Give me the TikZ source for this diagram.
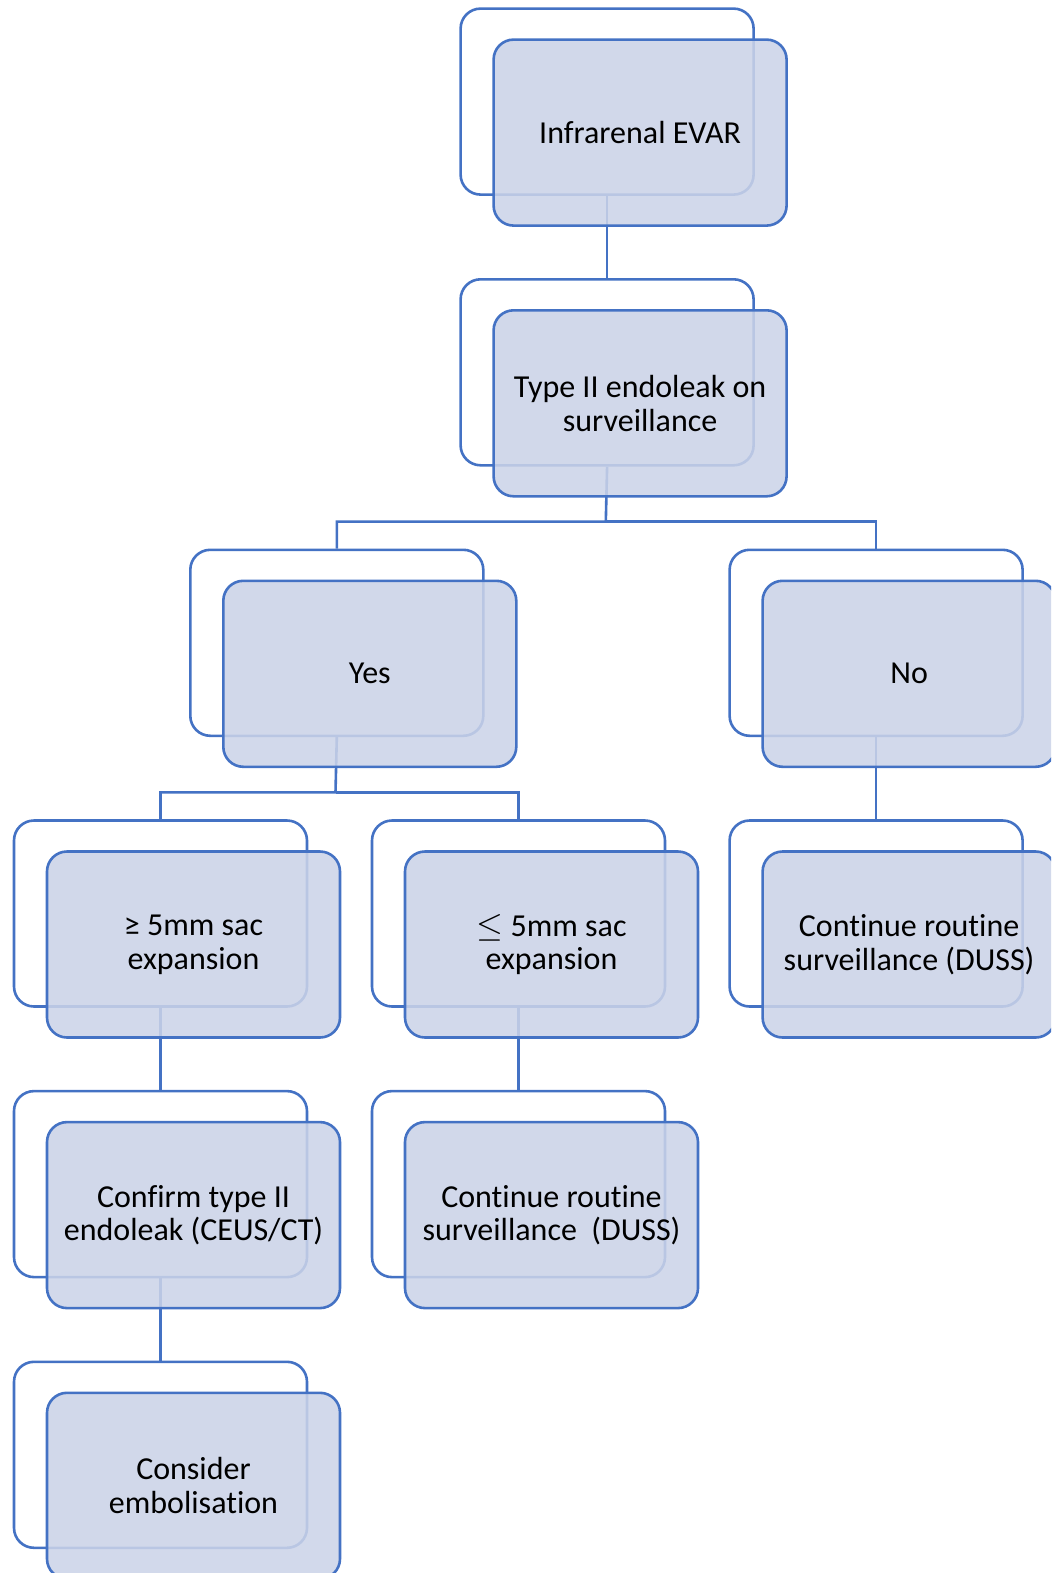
\documentclass[tikz,border=0pt]{standalone}
\usepackage{fontspec}
\setmainfont{Carlito}[RawFeature={-liga}]
\definecolor{lnblue}{RGB}{68,114,196}
\definecolor{fillblue}{RGB}{203,211,232}
\begin{document}
\begin{tikzpicture}[x=0.5pt,y=-0.5pt,
  backbox/.style={draw=lnblue, line width=1.3pt, fill=white, rounded corners=10pt,
    minimum width=146.5pt, minimum height=93pt, inner sep=0pt, anchor=north west},
  frontbox/.style={draw=lnblue, line width=1.3pt, fill=fillblue, fill opacity=0.87,
    draw opacity=1, text opacity=1, rounded corners=10pt, minimum width=146.5pt, minimum height=93pt,
    inner sep=0pt, anchor=north west, align=center,
    font=\fontsize{16}{16.9}\selectfont},
  conn/.style={draw=lnblue, line width=1.3pt}]
\useasboundingbox (0,0) rectangle (1051,1573);
\clip (0,0) rectangle (1051,1573);
% back boxes
\node[backbox] (evarb) at (459.3,7.3) {};
\node[backbox] (t2b) at (459.3,278) {};
\node[backbox] (yesb) at (189,548.5) {};
\node[backbox] (nob) at (728.3,548.5) {};
\node[backbox] (a3b) at (12.7,819.2) {};
\node[backbox] (b3b) at (370.7,819.2) {};
\node[backbox] (n3b) at (728.3,819.2) {};
\node[backbox] (a4b) at (12.7,1089.8) {};
\node[backbox] (b4b) at (370.7,1089.8) {};
\node[backbox] (a5b) at (12.7,1360.5) {};
% connectors
\coordinate (j1) at (605.8,521.6);
\coordinate (j2) at (335.5,792.3);
\draw[conn] (evarb.south) -- (t2b.north);
\draw[conn] (t2b.south) -- (j1) -| (yesb.north);
\draw[conn] (j1) -| (nob.north);
\draw[conn] (yesb.south) -- (j2) -| (a3b.north);
\draw[conn] (j2) -| (b3b.north);
\draw[conn] (nob.south) -- (n3b.north);
\draw[conn] (a3b.south) -- (a4b.north);
\draw[conn] (b3b.south) -- (b4b.north);
\draw[conn] (a4b.south) -- (a5b.north);
% front boxes
\node[frontbox] (evarf) at (492.3,38.3) {Infrarenal EVAR};
\node[frontbox] (t2f) at (492.3,309) {Type II endoleak on\\surveillance};
\node[frontbox] (yesf) at (222,579.5) {Yes};
\node[frontbox] (nof) at (761.3,579.5) {No};
\node[frontbox] (a3f) at (45.7,850.2) {≥ 5mm sac\\expansion};
\node[frontbox] (b3f) at (403.7,850.2) {$\leq$ 5mm sac\\expansion};
\node[frontbox] (n3f) at (761.3,850.2) {Continue routine\\surveillance (DUSS)};
\node[frontbox] (a4f) at (45.7,1120.8) {Confirm type II\\endoleak (CEUS/CT)};
\node[frontbox] (b4f) at (403.7,1120.8) {Continue routine\\surveillance\ \ (DUSS)};
\node[frontbox] (a5f) at (45.7,1391.5) {Consider\\embolisation};
\end{tikzpicture}
\end{document}
